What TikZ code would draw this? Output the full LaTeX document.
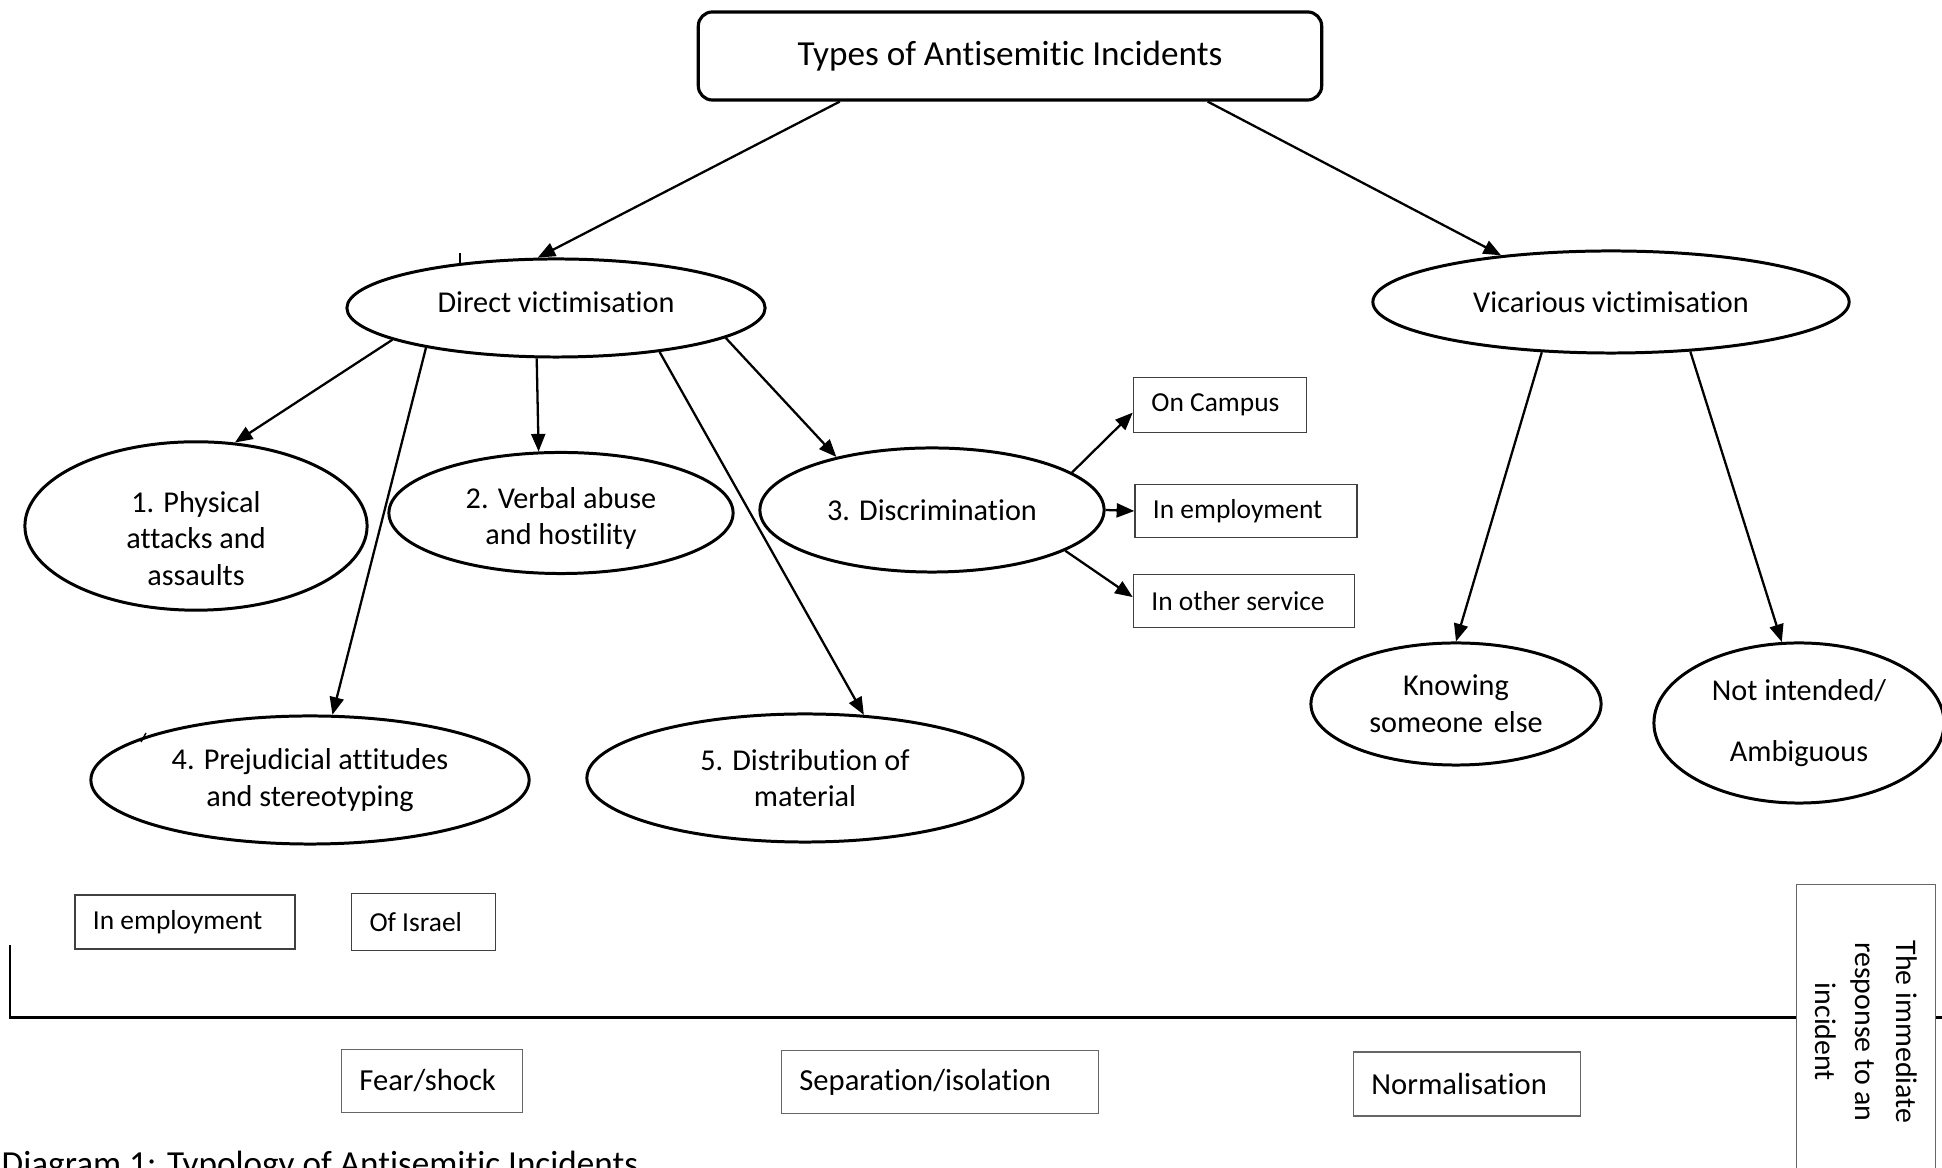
\documentclass[tikz,border=0pt]{standalone}
\usepackage{fontspec}
\setmainfont{Carlito}[Ligatures=NoCommon]
\usetikzlibrary{arrows.meta,positioning,shapes.geometric}

\begin{document}
\begin{tikzpicture}[x=0.01cm,y=-0.01cm,>={Triangle[length=5pt,width=4pt]}]
  \tikzset{
    oval/.style={ellipse, draw=black, line width=0.85pt, inner sep=0pt, align=flush center,
      font=\fontsize{8.6}{10.4}\selectfont},
    tag/.style={draw=black!75, line width=0.4pt, inner ysep=0pt, inner xsep=0.18cm, align=flush left,
      font=\fontsize{7.8}{9.5}\selectfont},
    phase/.style={draw=black!60, line width=0.45pt, inner ysep=0pt, inner xsep=0.18cm, align=flush left,
      font=\fontsize{8.7}{10.5}\selectfont},
    link/.style={->, line width=0.65pt}
  }
  \useasboundingbox (0,0) rectangle (1942,1168);
  \clip (0,0) rectangle (1942,1168);
  \node[draw, rounded corners=4pt, line width=0.9pt, minimum width=6.23cm, minimum height=0.88cm,
    font=\fontsize{10}{12}\selectfont] (types) at (1010,56) {Types of Antisemitic Incidents};
  \node[oval, minimum width=4.18cm, minimum height=0.98cm] (direct) at (556,308) {Direct victimisation\rule[-3.4pt]{0pt}{3.4pt}};
  \node[oval, minimum width=4.76cm, minimum height=1.02cm] (vicar) at (1611,302) {Vicarious victimisation};
  \node[oval, minimum width=3.42cm, minimum height=1.55cm] (phys) at (196,526) {\rule{0pt}{13pt}1. Physical\\attacks and\\assaults};
  \node[oval, minimum width=3.44cm, minimum height=1.21cm] (verbal) at (561,513) {\rule{0pt}{9pt}2. Verbal abuse\\and hostility};
  \node[oval, minimum width=3.44cm, minimum height=1.24cm] (disc) at (932,510) {3. Discrimination};
  \node[oval, minimum width=4.38cm, minimum height=1.28cm] (prej) at (310,780) {4. Prejudicial attitudes\\and stereotyping};
  \node[oval, minimum width=4.36cm, minimum height=1.28cm] (distr) at (805,778) {5. Distribution of\\material};
  \node[oval, minimum width=2.90cm, minimum height=1.22cm] (know) at (1456,704) {Knowing\\someone\hspace{0.35em}else};
  \node[oval, minimum width=2.90cm, minimum height=1.60cm] (notint) at (1799,723) {Not intended/\\[7pt]Ambiguous};
  % forms of discrimination
  \node[tag, text width=1.37cm, minimum height=0.55cm] (campus) at (1220,405) {On Campus};
  \node[tag, text width=1.86cm, minimum height=0.53cm] (emplR) at (1246,511) {In employment};
  \node[tag, text width=1.85cm, minimum height=0.53cm] (other) at (1244,601) {In other service};
  \node[tag, text width=1.84cm, minimum height=0.54cm] (emplL) at (185,922) {In employment};
  \node[tag, text width=1.08cm, minimum height=0.57cm, right=0.55cm of emplL] (israel) {Of Israel};
  % response axis
  \coordinate (axisTop) at (10,945);
  \coordinate (axisEnd) at (1942,1018);
  \draw[line width=0.85pt] (axisTop) |- (axisEnd);
  \node[phase, text width=1.45cm, minimum height=0.63cm] (fear) at (432,1081) {Fear/shock};
  \node[phase, text width=2.81cm, minimum height=0.63cm] (separ) at (940,1082) {Separation/isolation};
  \node[phase, text width=1.91cm, minimum height=0.64cm] (normal) at (1467,1084) {Normalisation};
  \node[phase, fill=white, rotate=-90, inner xsep=0pt, minimum width=2.95cm, minimum height=1.39cm, align=flush center,
    font=\fontsize{8.5}{11.5}\selectfont] (resp) at (1866,1032) {The immediate\\response to an\\incident};
  \draw[line width=0.6pt] (460,253) -- (460,264);
  \draw[line width=0.4pt] (141,742) -- (146,733);
  \draw[link] (types.-165) -- (direct.110);
  \draw[link] (types.-13) -- (vicar.157);
  \draw[link] (direct.-169) -- (phys.65);
  \draw[link] (direct.-111) -- (verbal.110);
  \draw[link] (direct.-10) -- (disc.151);
  \draw[link] (direct.-163) -- (prej.71);
  \draw[link] (direct.-23) -- (distr.47);
  \draw[link] (disc.15) -- (campus.185);
  \draw[link] (disc.east) -- (emplR.west);
  \draw[link] (disc.-17) -- (other.178);
  \draw[link] (vicar.-144) -- (know.north);
  \draw[link] (vicar.-32) -- (notint.102);
  \node[anchor=base west, inner sep=0pt, font=\fontsize{10}{12}\selectfont] (caption) at (1,1176)
    {Diagram 1: Typology of Antisemitic Incidents};
\end{tikzpicture}
\end{document}
